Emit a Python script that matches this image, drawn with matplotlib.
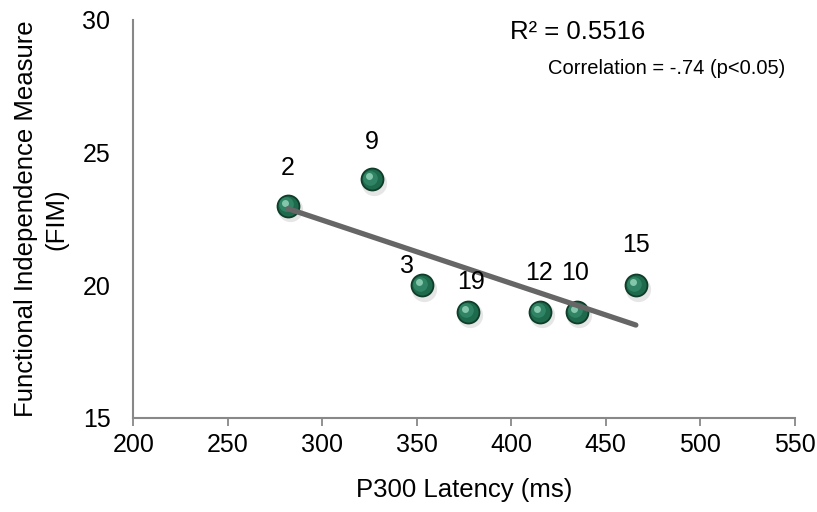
import numpy as np
import matplotlib
matplotlib.use("Agg")
import matplotlib.pyplot as plt

plt.rcParams['font.family'] = ['Liberation Sans', 'DejaVu Sans']

# patient data
patient = ['2', '9', '3', '19', '12', '10', '15']
latency = [281.9, 326.3, 352.8, 377.1, 415.2, 434.8, 466.0]
fim = [23, 24, 20, 19, 19, 19, 20]
# label offsets (pixels) as placed in the original
lab_dx = [0, 0, -15, 3, -1, -2, 0]
lab_dy = [38, 37, 19, 30, 39, 39, 40]

fig = plt.figure(figsize=(8.17, 5.12), dpi=100)
ax = fig.add_axes([0.1632, 0.1836, 0.8093, 0.7774])

lat = np.array(latency)
y = np.array(fim)

# shadow + sphere-ish markers
ax.scatter(lat + 0.9, y - 0.13, s=330, color='#c8c8c8', alpha=0.45, lw=0, zorder=3)
ax.scatter(lat, y, s=250, color='#1d6b4c', edgecolor='#0f3d2a', lw=1.3, zorder=4)
ax.scatter(lat - 0.9, y + 0.06, s=110, color='#34896a', lw=0, alpha=0.85, zorder=5)
ax.scatter(lat - 1.6, y + 0.12, s=25, color='#9ad8bd', lw=0, alpha=0.8, zorder=6)

# trend line
k, b = np.polyfit(latency, fim, 1)
xs = np.array([min(latency), max(latency)])
ax.plot(xs, k * xs + b, color='#666666', lw=3.8, solid_capstyle='round', zorder=7)

for p, xv, yv, dx, dy in zip(patient, latency, fim, lab_dx, lab_dy):
    ax.annotate(p, (xv, yv), xytext=(dx, dy), textcoords='offset pixels',
                ha='center', va='center', fontsize=18, zorder=8)

ax.text(578 / 817, 1 - 32 / 512, 'R² = 0.5516', transform=fig.transFigure,
        fontsize=18.5, ha='center', va='center')
ax.text(667 / 817, 1 - 68 / 512, 'Correlation = -.74 (p<0.05)',
        transform=fig.transFigure, fontsize=14.5, ha='center', va='center')

ax.set_xlim(200, 550)
ax.set_ylim(15, 30)
ax.set_xticks(range(200, 551, 50))
ax.set_yticks(range(15, 31, 5))
ax.tick_params(axis='x', direction='out', length=6, width=1.3, color='#888888',
               labelsize=18, pad=5)
ax.tick_params(axis='y', length=0, labelsize=18, pad=16.5)
for s in ['top', 'right']:
    ax.spines[s].set_visible(False)
for s in ['left', 'bottom']:
    ax.spines[s].set_color('#888888')
    ax.spines[s].set_linewidth(1.5)

ax.set_xlabel('P300 Latency (ms)', fontsize=18.5, labelpad=15)
ax.set_ylabel('Functional Independence Measure\n(FIM)', fontsize=18.5, labelpad=10,
              linespacing=1.35)

plt.savefig('out.png', dpi=100)
